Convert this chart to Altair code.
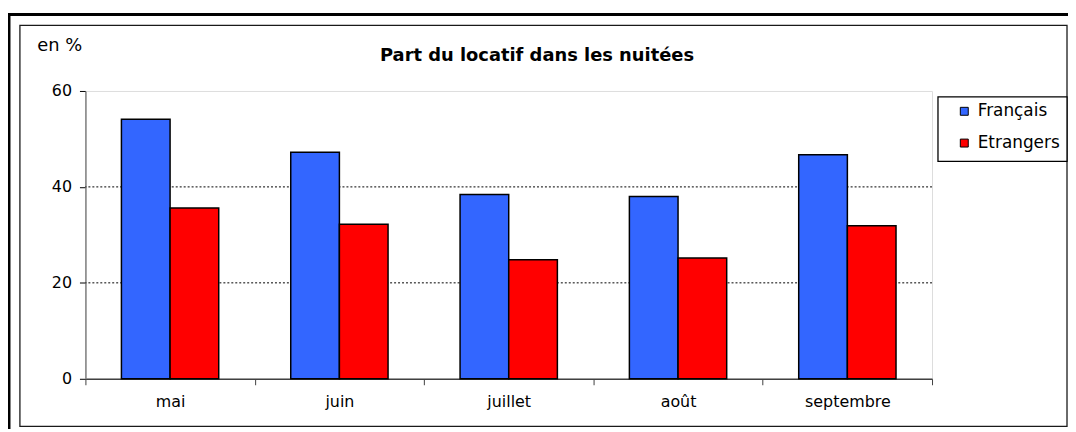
import altair as alt
import pandas as pd

months = ["mai", "juin", "juillet", "août", "septembre"]
series = ["Français", "Etrangers"]
francais = [54.1, 47.2, 38.4, 38.0, 46.7]
etrangers = [35.6, 32.2, 24.8, 25.2, 31.9]
grid_values = [20, 40]
y_ticks = [0, 20, 40, 60]
colors = ["#3366FF", "#FF0000"]
title_text = "Part du locatif dans les nuitées"

rows = []
for m, f, e in zip(months, francais, etrangers):
    rows.append({"mois": m, "serie": series[0], "valeur": f})
    rows.append({"mois": m, "serie": series[1], "valeur": e})
df = pd.DataFrame(rows)
grid_df = pd.DataFrame({"v": grid_values})

FONT = "DejaVu Sans"
W, H = 853, 290

xscale = alt.Scale(paddingInner=0, paddingOuter=0)
yscale = alt.Scale(domain=[0, 60], nice=False)

one = alt.Data(values=[{"k": 1}])

outer_frame = alt.Chart(one).mark_rect(fillOpacity=0, stroke="black", strokeWidth=3).encode(
    x=alt.value(-77), x2=alt.value(1200), y=alt.value(-77), y2=alt.value(600)
)
inner_frame = alt.Chart(one).mark_rect(fillOpacity=0, stroke="#1a1a1a", strokeWidth=1.3).encode(
    x=alt.value(-66), x2=alt.value(989), y=alt.value(-66), y2=alt.value(338)
)
legend_box = alt.Chart(one).mark_rect(fill="white", stroke="black", strokeWidth=1.3).encode(
    x=alt.value(859), x2=alt.value(989), y=alt.value(6), y2=alt.value(71)
)
title = alt.Chart(one).mark_text(
    text=title_text, font=FONT, fontSize=18, fontWeight="bold", color="black",
    align="center", baseline="middle"
).encode(x=alt.value(455), y=alt.value(-35))

grid = alt.Chart(grid_df).mark_rule(color="black", strokeWidth=1, strokeDash=[2, 2]).encode(
    y=alt.Y("v:Q", scale=yscale)
)

bars = alt.Chart(df).mark_bar(stroke="black", strokeWidth=1.5).encode(
    x=alt.X(
        "mois:N",
        sort=months,
        scale=xscale,
        axis=alt.Axis(
            title=None,
            labelAngle=0,
            tickBand="extent",
            tickSize=6,
            tickColor="#404040",
            domainColor="#404040",
            domainWidth=1.5,
            labelFont=FONT,
            labelFontSize=16,
            labelColor="black",
            labelPadding=9,
        ),
    ),
    xOffset=alt.XOffset("serie:N", sort=series, scale=alt.Scale(paddingInner=0, paddingOuter=0.74)),
    y=alt.Y(
        "valeur:Q",
        scale=yscale,
        axis=alt.Axis(
            title="en %",
            titleAngle=0,
            titleX=-49,
            titleY=-46,
            titleAlign="left",
            titleBaseline="middle",
            titleFont=FONT,
            titleFontSize=18,
            titleFontWeight="normal",
            titleColor="black",
            values=y_ticks,
            grid=False,
            tickSize=6,
            tickColor="black",
            domainColor="#808080",
            domainWidth=1.5,
            labelFont=FONT,
            labelFontSize=16,
            labelColor="black",
            labelPadding=8,
        ),
    ),
    color=alt.Color(
        "serie:N",
        sort=series,
        scale=alt.Scale(domain=series, range=colors),
        legend=alt.Legend(
            title=None,
            orient="none",
            legendX=877,
            legendY=12,
            symbolType="square",
            symbolSize=64,
            symbolStrokeColor="black",
            symbolStrokeWidth=1,
            symbolOpacity=1,
            labelFont=FONT,
            labelFontSize=17,
            labelColor="black",
            labelOffset=5,
            rowPadding=14,
            padding=0,
        ),
    ),
)

chart = alt.layer(outer_frame, inner_frame, grid, bars, legend_box, title).properties(
    width=W,
    height=H,
    autosize=alt.AutoSizeParams(type="none"),
    padding={"left": 78, "top": 82, "right": 137, "bottom": 49},
).configure_view(stroke="#808080", strokeWidth=2).configure(background="white")

chart.save("out.html", embed_options={"renderer": "svg", "actions": False})
